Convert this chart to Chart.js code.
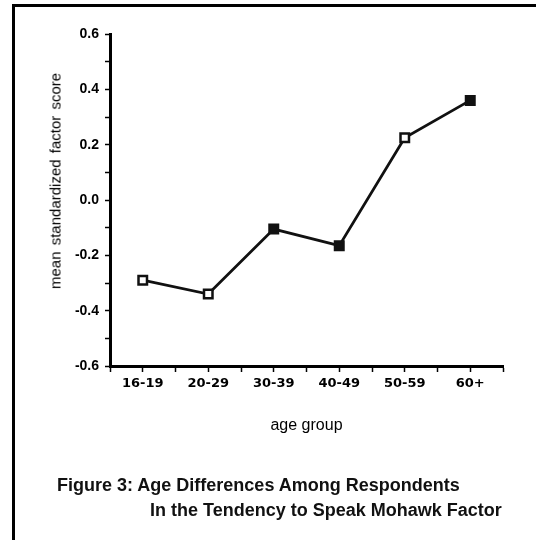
<!DOCTYPE html>
<html>
<head>
<meta charset="utf-8">
<script src="https://cdn.jsdelivr.net/npm/chart.js@4.4.1/dist/chart.umd.min.js"></script>
<style>
  html, body { margin: 0; padding: 0; background: #fff; }
  #wrap { position: relative; width: 536px; height: 540px; overflow: hidden; }
  #frame {
    position: absolute; left: 12px; top: 4px; width: 600px; height: 600px;
    border-left: 3px solid #000; border-top: 3px solid #000;
  }
  canvas { position: absolute; left: 0; top: 0; }
  .ytitle {
    position: absolute; left: 55px; top: 181px;
    transform: translate(-50%, -50%) rotate(-90deg);
    font: 15px "Liberation Sans", Arial, sans-serif; color: #000;
    white-space: nowrap; word-spacing: 2px;
  }
  .cap {
    position: absolute; font: bold 18px "Liberation Sans", Arial, sans-serif;
    color: #111; white-space: nowrap; line-height: 20px;
  }
</style>
</head>
<body>
<div id="wrap">
  <div id="frame"></div>
  <canvas id="chart" width="536" height="540"></canvas>
  <div class="ytitle">mean standardized factor score</div>
  <div class="cap" style="left:57px; top:475px;">Figure 3: Age Differences Among Respondents</div>
  <div class="cap" style="left:150px; top:500px;">In the Tendency to Speak Mohawk Factor</div>
</div>
<script>
"use strict";

const ageGroups = ["16-19", "20-29", "30-39", "40-49", "50-59", "60+"];
const meanScores = [-0.29, -0.34, -0.105, -0.165, 0.225, 0.36];
const yTicks = [-0.6, -0.4, -0.2, 0.0, 0.2, 0.4, 0.6];

// hollow-looking markers in the scan
const markerFill = ["#fff", "#fff", "#111", "#111", "#fff", "#111"];

const points = meanScores.map((v, i) => ({ x: i, y: v }));

const ctx = document.getElementById("chart").getContext("2d");
new Chart(ctx, {
  type: "line",
  data: {
    datasets: [
      {
        data: points,
        borderColor: "#111",
        borderWidth: 2.8,
        tension: 0,
        pointStyle: "rect",
        pointRadius: 6,
        pointBorderWidth: 2.5,
        pointBorderColor: "#111",
        pointBackgroundColor: markerFill,
      },
    ],
  },
  options: {
    responsive: false,
    animation: false,
    layout: { padding: { left: 0, top: 34, right: 33, bottom: 105 } },
    plugins: { legend: { display: false }, tooltip: { enabled: false } },
    scales: {
      x: {
        type: "linear",
        min: -0.5,
        max: ageGroups.length - 0.5,
        afterFit: (s) => { s.height = 69; },
        border: { display: true, color: "#000", width: 3 },
        grid: { drawOnChartArea: false, tickLength: 6, tickWidth: 1.5, tickColor: "#000" },
        ticks: {
          stepSize: 0.5,
          autoSkip: false,
          maxRotation: 0,
          padding: 4,
          color: "#000",
          font: { family: "DejaVu Sans", weight: "bold", size: 13 },
          callback: (v) => (Number.isInteger(v) ? ageGroups[v] : ""),
        },
        title: {
          display: true,
          text: "age group",
          color: "#000",
          font: { family: "Liberation Sans", size: 16 },
          padding: 0,
        },
      },
      y: {
        min: yTicks[0],
        max: yTicks[yTicks.length - 1],
        afterFit: (s) => { s.width = 110; },
        border: { display: true, color: "#000", width: 3 },
        grid: { drawOnChartArea: false, tickLength: 5, tickWidth: 1.5, tickColor: "#000" },
        ticks: {
          stepSize: 0.1,
          maxTicksLimit: 20,
          autoSkip: false,
          padding: 6,
          color: "#000",
          font: { family: "Liberation Sans", weight: "bold", size: 14 },
          callback: (v) => {
            const r = Math.round(v * 10) / 10;
            return yTicks.some((t) => Math.abs(t - r) < 1e-6) ? r.toFixed(1) : "";
          },
        },
      },
    },
  },
});
</script>
</body>
</html>
